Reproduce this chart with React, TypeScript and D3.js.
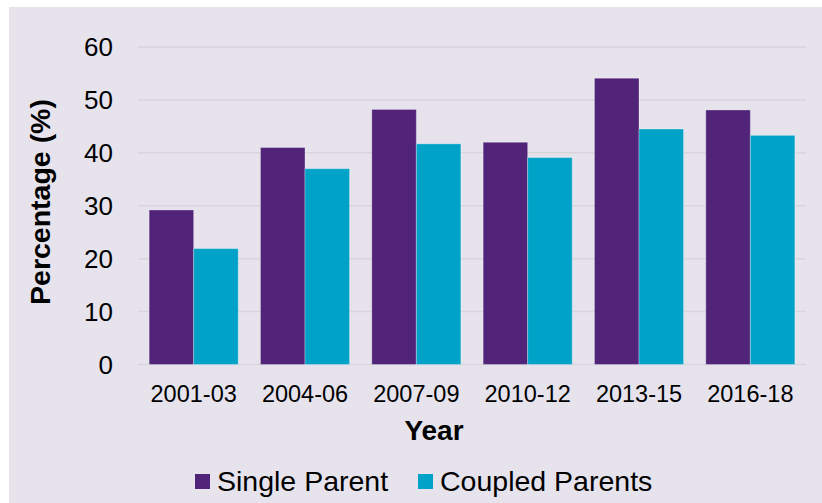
import * as d3 from "d3";

const years = ["2001-03", "2004-06", "2007-09", "2010-12", "2013-15", "2016-18"];
const singleParent = [29.2, 41.0, 48.2, 42.0, 54.1, 48.1];
const coupledParents = [21.9, 37.0, 41.7, 39.1, 44.5, 43.3];
const yTicks = [0, 10, 20, 30, 40, 50, 60];

const series = [
  { name: "Single Parent", values: singleParent, color: "#51247a" },
  { name: "Coupled Parents", values: coupledParents, color: "#00a2c7" },
];

const width = 822;
const height = 503;
const font = "Arial, 'Liberation Sans', sans-serif";

export default function App() {
  const x = d3
    .scaleBand<string>()
    .domain(years)
    .range([138, 806])
    .paddingInner(0.2)
    .paddingOuter(0.1);
  const inner = d3
    .scaleBand<string>()
    .domain(series.map((s) => s.name))
    .range([0, x.bandwidth()]);
  const y = d3.scaleLinear().domain([0, 60]).range([364.5, 47]);

  const legendX = [195, 418];

  return (
    <svg
      width={width}
      height={height}
      style={{ position: "absolute", left: 0, top: 0, fontFamily: font }}
    >
      <rect x={0} y={0} width={width} height={height} fill="#fff" />
      <rect x={9} y={7} width={width - 9} height={height - 7} fill="#e6e3ed" />
      {yTicks.map((t) => (
        <g key={t}>
          <line
            x1={138}
            x2={806}
            y1={y(t)}
            y2={y(t)}
            stroke="#d8d5dc"
            strokeWidth={1.5}
          />
          <text
            x={113}
            y={y(t)}
            dy="0.36em"
            textAnchor="end"
            fontSize={26}
            fill="#000"
          >
            {t}
          </text>
        </g>
      ))}
      {series.map((s) =>
        s.values.map((v, i) => (
          <rect
            key={s.name + i}
            x={(x(years[i]) ?? 0) + (inner(s.name) ?? 0)}
            y={y(v)}
            width={inner.bandwidth()}
            height={y(0) - y(v)}
            fill={s.color}
            stroke="rgba(255,255,255,0.3)"
            strokeWidth={1}
          />
        ))
      )}
      {years.map((yr) => (
        <text
          key={yr}
          x={(x(yr) ?? 0) + x.bandwidth() / 2}
          y={402}
          textAnchor="middle"
          fontSize={23.5}
          fill="#000"
        >
          {yr}
        </text>
      ))}
      <text
        x={434}
        y={440}
        textAnchor="middle"
        fontSize={28}
        fontWeight="bold"
        fill="#000"
      >
        Year
      </text>
      <text
        transform="translate(50,202) rotate(-90)"
        textAnchor="middle"
        fontSize={28.5}
        fontWeight="bold"
        fill="#000"
      >
        Percentage (%)
      </text>
      {series.map((s, i) => (
        <g key={s.name}>
          <rect x={legendX[i]} y={474} width={15} height={15} fill={s.color} />
          <text x={legendX[i] + 22} y={491} fontSize={28.5} fill="#000">
            {s.name}
          </text>
        </g>
      ))}
    </svg>
  );
}
